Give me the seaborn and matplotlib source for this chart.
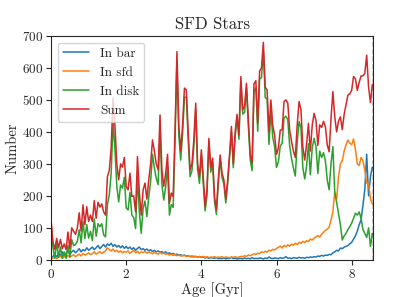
import matplotlib
matplotlib.use("Agg")
import matplotlib.pyplot as plt
import numpy as np
import pandas as pd
import seaborn as sns

# age bins (Gyr), one value every 0.05 Gyr from 0 to 8.55
age_step = 0.05
n_bins = 172

in_bar = [
    2, 10, 18, 8, 22, 12, 25, 15, 20, 28,
    18, 25, 30, 22, 28, 35, 25, 32, 28, 38,
    30, 35, 40, 32, 38, 45, 35, 42, 48, 40,
    50, 45, 52, 42, 48, 40, 45, 38, 44, 36,
    42, 35, 40, 33, 38, 30, 36, 40, 32, 35,
    30, 34, 28, 32, 26, 30, 25, 28, 24, 26,
    22, 25, 20, 22, 18, 20, 16, 18, 15, 16,
    13, 15, 12, 13, 10, 12, 9, 11, 8, 10,
    8, 9, 6, 8, 5, 7, 6, 5, 7, 4,
    5, 4, 6, 3, 5, 4, 8, 4, 5, 3,
    4, 5, 3, 6, 4, 5, 3, 7, 4, 5,
    4, 6, 5, 3, 6, 4, 9, 5, 4, 6,
    5, 4, 7, 5, 6, 10, 5, 6, 4, 7,
    6, 5, 8, 6, 7, 5, 8, 7, 9, 8,
    10, 9, 12, 11, 14, 12, 15, 14, 17, 16,
    22, 25, 30, 28, 37, 35, 40, 42, 45, 50,
    55, 65, 75, 90, 110, 125, 170, 220, 330, 200, 260, 290,
]

in_sfd = [
    3, 6, 10, 4, 8, 12, 5, 10, 7, 14,
    8, 12, 16, 10, 14, 18, 12, 20, 15, 18,
    22, 16, 20, 25, 18, 22, 26, 20, 24, 28,
    38, 32, 28, 34, 26, 30, 24, 28, 22, 26,
    24, 28, 20, 25, 30, 22, 27, 20, 25, 23,
    26, 21, 25, 22, 19, 23, 20, 18, 23, 19,
    21, 17, 19, 15, 18, 14, 16, 13, 15, 12,
    13, 14, 10, 12, 11, 9, 12, 10, 8, 11,
    9, 11, 8, 10, 7, 9, 8, 10, 7, 9,
    8, 10, 7, 9, 8, 6, 9, 8, 10, 7,
    9, 11, 10, 13, 11, 15, 13, 16, 19, 17,
    21, 19, 25, 23, 27, 24, 30, 28, 33, 31,
    36, 39, 43, 37, 45, 41, 47, 43, 49, 46,
    52, 48, 55, 51, 58, 54, 60, 57, 65, 62,
    68, 72, 76, 71, 80, 86, 92, 96, 102, 125,
    150, 213, 190, 260, 300, 310, 340, 360, 375, 365,
    360, 378, 345, 300, 295, 320, 310, 280, 240, 240, 190, 175,
]

in_disk = [
    120, 40, 5, 55, 8, 40, 5, 25, 5, 45,
    9, 63, 44, 48, 58, 94, 53, 120, 67, 110,
    68, 89, 60, 128, 74, 113, 104, 113, 78, 72,
    172, 203, 270, 430, 346, 230, 181, 234, 224, 258,
    163, 156, 211, 140, 132, 98, 260, 150, 83, 161,
    184, 135, 197, 246, 330, 287, 255, 235, 406, 236,
    187, 228, 291, 140, 173, 164, 374, 620, 390, 312,
    394, 508, 509, 375, 260, 279, 354, 469, 284, 239,
    327, 240, 153, 202, 368, 274, 304, 183, 142, 237,
    315, 257, 237, 178, 237, 320, 400, 288, 385, 445,
    377, 557, 456, 461, 537, 420, 314, 279, 527, 538,
    402, 565, 570, 654, 507, 503, 361, 467, 383, 353,
    289, 307, 356, 364, 444, 449, 438, 357, 317, 287,
    262, 367, 432, 413, 289, 253, 292, 363, 266, 350,
    380, 355, 270, 340, 320, 335, 310, 250, 219, 300,
    354, 209, 180, 146, 110, 62, 75, 83, 95, 104,
    115, 130, 146, 140, 150, 130, 95, 83, 70, 100, 42, 83,
]

df = pd.DataFrame({
    "age": np.arange(n_bins) * age_step,
    "In bar": in_bar,
    "In sfd": in_sfd,
    "In disk": in_disk,
})
df["Sum"] = df["In bar"] + df["In sfd"] + df["In disk"]

sns.set_style("ticks")
plt.rcParams["font.family"] = "serif"
plt.rcParams["font.serif"] = ["cmr10", "DejaVu Serif"]
plt.rcParams["mathtext.fontset"] = "cm"
plt.rcParams["axes.formatter.use_mathtext"] = True

fig = plt.figure(figsize=(4.15, 2.97), dpi=100)
ax = fig.add_axes([0.123, 0.125, 0.776, 0.754])

colors = {"In bar": "#1f77b4", "In sfd": "#ff7f0e", "In disk": "#2ca02c", "Sum": "#d62728"}
for name in ["In bar", "In sfd", "In disk", "Sum"]:
    sns.lineplot(data=df, x="age", y=name, ax=ax, color=colors[name], label=name, linewidth=1.1)

xmax = df["age"].iloc[-1] + 0.02
ax.axvline(xmax, color="black", linestyle="--", linewidth=1.0)
ax.set_xlim(0, xmax)
ax.set_ylim(0, 700)
ax.set_xticks([0, 2, 4, 6, 8])
ax.set_yticks(range(0, 701, 100))
ax.tick_params(labelsize=9.5, length=3.5, pad=2)
ax.set_xlabel("Age [Gyr]", fontsize=10.5, labelpad=1)
ax.set_ylabel("Number", fontsize=10.5, labelpad=2)
ax.set_title("SFD Stars", fontsize=12, pad=5)
ax.legend(loc="upper left", fontsize=9.5, frameon=True)

fig.savefig("out.png", dpi=100)
plt.close(fig)
